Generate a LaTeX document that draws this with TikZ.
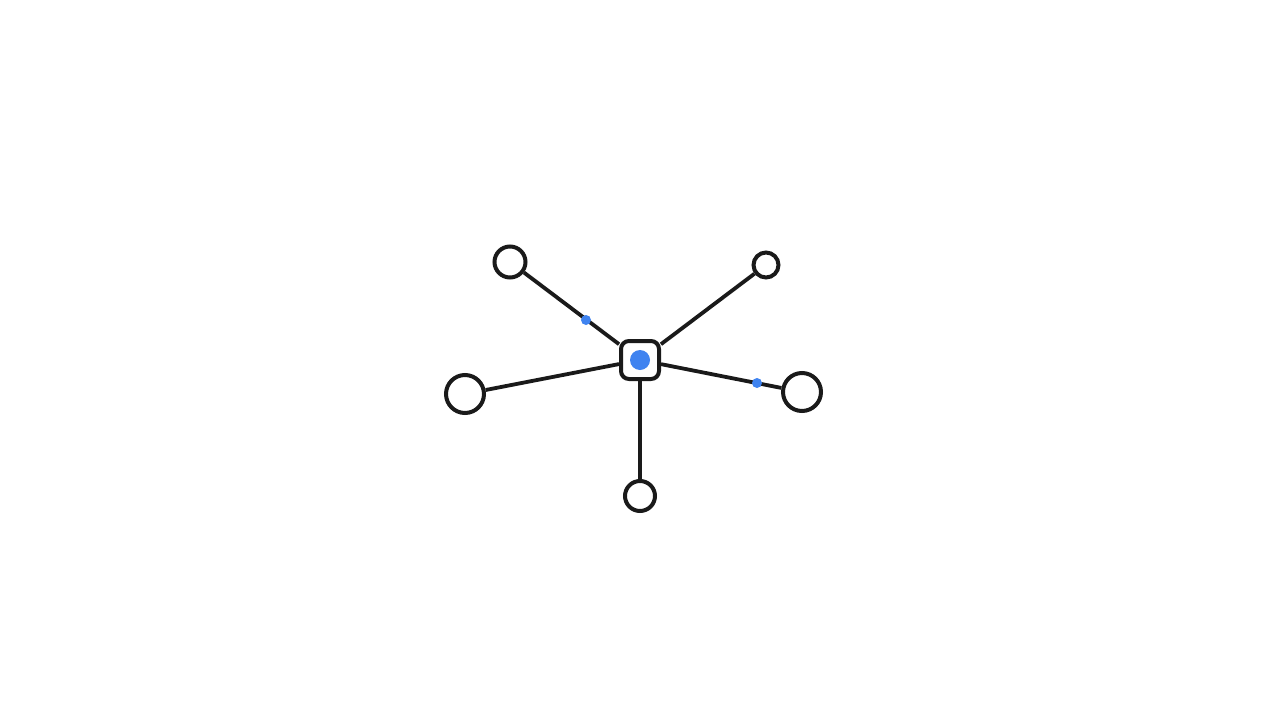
\documentclass[tikz,border=0pt]{standalone}
\definecolor{ink}{HTML}{1A1A1A}
\definecolor{accent}{HTML}{3F83F0}
\begin{document}
\begin{tikzpicture}[x=1pt,y=-1pt,
  hub/.style={draw=ink,line width=4pt,fill=white,rounded corners=8pt,minimum size=38pt,inner sep=0pt},
  leaf/.style={draw=ink,line width=4pt,fill=white,circle,inner sep=0pt,minimum size=#1},
  dot/.style={fill=accent,circle,inner sep=0pt,minimum size=#1},
  edge/.style={draw=ink,line width=3.8pt}]
\useasboundingbox (0,0) rectangle (1280,720);
\node[hub] (hub) at (640,360) {};
\node[dot=20pt] (core) at (640,360) {};
\node[leaf=31pt] (tl) at (510,262) {};
\node[leaf=25pt] (tr) at (766,265) {};
\node[leaf=38pt] (l) at (465,394) {};
\node[leaf=38pt] (r) at (802,392) {};
\node[leaf=30pt] (b) at (640,496) {};
\path[edge] (hub) -- (tl);
\path[edge] (hub) -- (tr);
\path[edge] (hub) -- (l);
\path[edge] (hub) -- (r);
\path[edge] (hub) -- (b);
\node[dot=10pt] (m1) at (586,320) {};
\node[dot=10pt] (m2) at (757,383) {};
\end{tikzpicture}
\end{document}
